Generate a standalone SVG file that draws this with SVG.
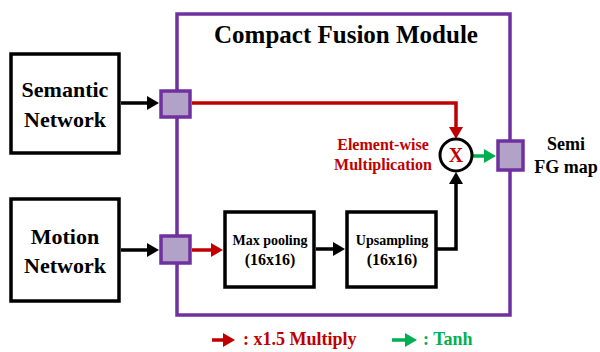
<svg xmlns="http://www.w3.org/2000/svg" width="600" height="352" viewBox="0 0 600 352">
<style>
text{font-family:'Liberation Serif','DejaVu Serif','Times New Roman',serif;font-weight:700;text-anchor:middle;fill:#000}
.box{fill:#fff;stroke:#000;stroke-width:3.5}
.frame{fill:none;stroke:#7030a0;stroke-width:3.5}
.port{fill:#b3a2c7;stroke:#7030a0;stroke-width:3.5}
.blk{fill:none;stroke:#000;stroke-width:3.5}
.red{fill:none;stroke:#c00000;stroke-width:3.5}
.grn{fill:none;stroke:#00b050;stroke-width:3.5}
</style>
<defs>
<marker id="ab" viewBox="0 0 12 14" refX="6" refY="7" markerWidth="12" markerHeight="14" markerUnits="userSpaceOnUse" orient="auto"><path d="M0,0 L12,7 L0,14 z" fill="#000"/></marker>
<marker id="ar" viewBox="0 0 12 14" refX="6" refY="7" markerWidth="12" markerHeight="14" markerUnits="userSpaceOnUse" orient="auto"><path d="M0,0 L12,7 L0,14 z" fill="#c00000"/></marker>
<marker id="ag" viewBox="0 0 12 14" refX="6" refY="7" markerWidth="12" markerHeight="14" markerUnits="userSpaceOnUse" orient="auto"><path d="M0,0 L12,7 L0,14 z" fill="#00b050"/></marker>
</defs>
<rect width="600" height="352" fill="#fff"/>
<g id="module">
<rect class="frame" x="177" y="14" width="333" height="301"/>
<text x="346" y="43" font-size="25" font-family="Liberation Serif, serif">Compact Fusion Module</text>
</g>
<g id="semantic">
<rect class="box" x="11" y="54" width="108" height="99"/>
<text x="65" y="97" font-size="22">Semantic</text>
<text x="65" y="127" font-size="22">Network</text>
</g>
<g id="motion">
<rect class="box" x="11" y="199" width="108" height="102"/>
<text x="65" y="244" font-size="22">Motion</text>
<text x="65" y="273" font-size="22">Network</text>
</g>
<g id="maxpool">
<rect class="box" x="225" y="212" width="89" height="75"/>
<text x="270" y="245" font-size="14">Max pooling</text>
<text x="270" y="265" font-size="16">(16x16)</text>
</g>
<g id="upsample">
<rect class="box" x="347" y="212" width="89" height="75"/>
<text x="392" y="245" font-size="14">Upsampling</text>
<text x="392" y="265" font-size="16">(16x16)</text>
</g>
<g id="connectors">
<path class="blk" d="M121,103 H153" marker-end="url(#ab)"/>
<path class="blk" d="M121,250 H153" marker-end="url(#ab)"/>
<path class="red" d="M192,103 H456 V133" marker-end="url(#ar)"/>
<path class="red" d="M192,250 H217" marker-end="url(#ar)"/>
<path class="blk" d="M316,249 H339" marker-end="url(#ab)"/>
<path class="blk" d="M436,249 H456 V178" marker-end="url(#ab)"/>
<path class="grn" d="M473,156 H490" marker-end="url(#ag)"/>
</g>
<g id="port-semantic"><rect class="port" x="161" y="91" width="29" height="26"/></g>
<g id="port-motion"><rect class="port" x="161" y="236" width="29" height="27"/></g>
<g id="port-output"><rect class="port" x="498" y="141" width="25" height="29"/></g>
<g id="multiply">
<circle cx="456" cy="155" r="16" fill="#fff" stroke="#000" stroke-width="3"/>
<text x="456" y="162" font-size="20" style="fill:#c00000">X</text>
<text x="383" y="150" font-size="16" style="fill:#c00000">Element-wise</text>
<text x="383" y="170" font-size="16" style="fill:#c00000">Multiplication</text>
</g>
<g id="output-label">
<text x="566" y="150" font-size="18">Semi</text>
<text x="566" y="173" font-size="18">FG map</text>
</g>
<g id="legend">
<path class="red" d="M212,340 H229" marker-end="url(#ar)"/>
<text x="243" y="345" font-size="18" style="text-anchor:start;fill:#c00000">: x1.5 Multiply</text>
<path class="grn" d="M392,340 H411" marker-end="url(#ag)"/>
<text x="423" y="345" font-size="18" style="text-anchor:start;fill:#00b050">: Tanh</text>
</g>
</svg>
